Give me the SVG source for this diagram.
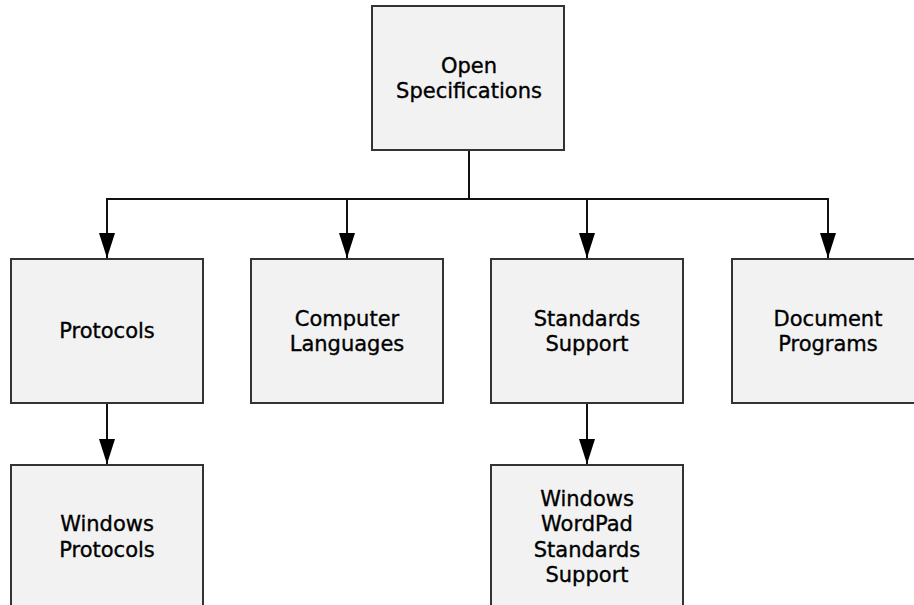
<svg xmlns="http://www.w3.org/2000/svg" width="914" height="605" viewBox="0 0 914 605">
<defs>
<style>
.box{fill:#f2f2f2;stroke:#333;stroke-width:2}
.lbl{font-family:"DejaVu Sans",Verdana,sans-serif;font-size:21px;fill:#000;stroke:#000;stroke-width:0.35;text-anchor:middle}
.con{fill:none;stroke:#111;stroke-width:2}
</style>
<marker id="arr" markerWidth="25" markerHeight="16" refX="25" refY="8" orient="auto" markerUnits="userSpaceOnUse" viewBox="0 0 25 16">
<path d="M0,0 L25,8 L0,16 Z" fill="#000"/>
</marker>
</defs>
<rect width="914" height="605" fill="#fff"/>
<g id="connectors">
<path class="con" d="M469,150 V199 M106,199 H829"/>
<path class="con" d="M107,199 V258" marker-end="url(#arr)"/>
<path class="con" d="M347,199 V258" marker-end="url(#arr)"/>
<path class="con" d="M587,199 V258" marker-end="url(#arr)"/>
<path class="con" d="M828,199 V258" marker-end="url(#arr)"/>
<path class="con" d="M107,403 V464" marker-end="url(#arr)"/>
<path class="con" d="M587,403 V464" marker-end="url(#arr)"/>
</g>
<g id="open-specifications">
<rect class="box" x="372" y="6" width="192" height="144"/>
<text class="lbl" x="469" y="73">Open</text>
<text class="lbl" x="469" y="98">Specifications</text>
</g>
<g id="protocols">
<rect class="box" x="11" y="259" width="192" height="144"/>
<text class="lbl" x="107" y="338">Protocols</text>
</g>
<g id="computer-languages">
<rect class="box" x="251" y="259" width="192" height="144"/>
<text class="lbl" x="347" y="326">Computer</text>
<text class="lbl" x="347" y="351">Languages</text>
</g>
<g id="standards-support">
<rect class="box" x="491" y="259" width="192" height="144"/>
<text class="lbl" x="587" y="326">Standards</text>
<text class="lbl" x="587" y="351">Support</text>
</g>
<g id="document-programs">
<rect class="box" x="732" y="259" width="192" height="144"/>
<text class="lbl" x="828" y="326">Document</text>
<text class="lbl" x="828" y="351">Programs</text>
</g>
<g id="windows-protocols">
<rect class="box" x="11" y="465" width="192" height="160"/>
<text class="lbl" x="107" y="531">Windows</text>
<text class="lbl" x="107" y="557">Protocols</text>
</g>
<g id="wordpad-standards-support">
<rect class="box" x="491" y="465" width="192" height="160"/>
<text class="lbl" x="587" y="506">Windows</text>
<text class="lbl" x="587" y="531">WordPad</text>
<text class="lbl" x="587" y="557">Standards</text>
<text class="lbl" x="587" y="582">Support</text>
</g>
</svg>
